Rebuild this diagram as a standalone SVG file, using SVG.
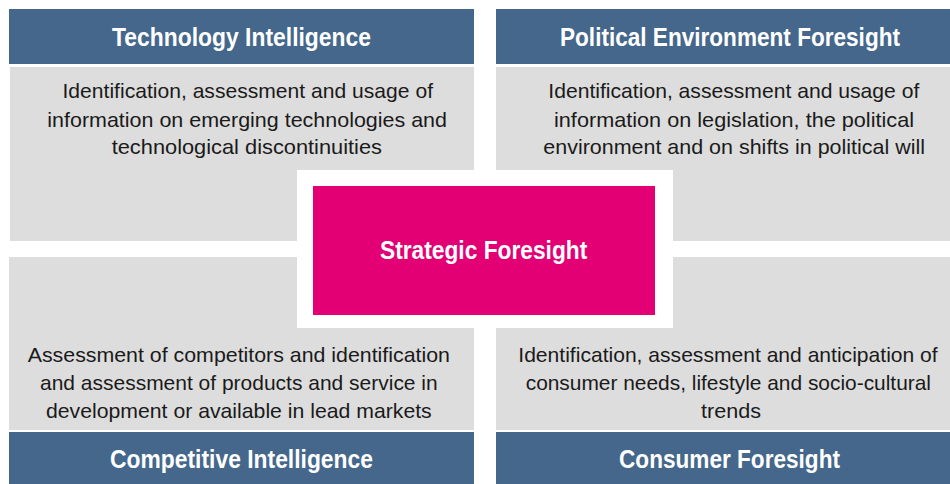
<svg xmlns="http://www.w3.org/2000/svg" width="950" height="484" viewBox="0 0 950 484">
<style>
.hdr{fill:#44678b}
.box{fill:#dddddd}
.ht{font-family:"Liberation Sans Narrow","Liberation Sans",Arial,sans-serif;font-weight:bold;font-size:26px;fill:#ffffff}
.bt{font-family:"Liberation Sans",Arial,sans-serif;font-size:21px;fill:#1a1a1a}
</style>
<rect width="950" height="484" fill="#ffffff"/>
<g id="technology-intelligence">
<rect class="hdr" x="9" y="9" width="465" height="55"/>
<rect class="box" x="10" y="67" width="464" height="174"/>
<text class="ht" x="112" y="46" textLength="259" lengthAdjust="spacingAndGlyphs">Technology Intelligence</text>
<text class="bt" x="62.5" y="98.3" textLength="370.5" lengthAdjust="spacingAndGlyphs">Identification, assessment and usage of</text>
<text class="bt" x="47.3" y="126.7" textLength="399.7" lengthAdjust="spacingAndGlyphs">information on emerging technologies and</text>
<text class="bt" x="111.7" y="154" textLength="270.3" lengthAdjust="spacingAndGlyphs">technological discontinuities</text>
</g>
<g id="political-environment-foresight">
<rect class="hdr" x="496" y="9" width="454" height="55"/>
<rect class="box" x="496" y="67" width="454" height="174"/>
<text class="ht" x="560" y="46" textLength="340" lengthAdjust="spacingAndGlyphs">Political Environment Foresight</text>
<text class="bt" x="548.3" y="98.3" textLength="371" lengthAdjust="spacingAndGlyphs">Identification, assessment and usage of</text>
<text class="bt" x="554" y="126.7" textLength="360" lengthAdjust="spacingAndGlyphs">information on legislation, the political</text>
<text class="bt" x="543.3" y="154" textLength="381.7" lengthAdjust="spacingAndGlyphs">environment and on shifts in political will</text>
</g>
<g id="competitive-intelligence">
<rect class="box" x="9" y="257" width="465" height="173"/>
<rect class="hdr" x="9" y="432" width="465" height="52"/>
<text class="ht" x="110" y="468" textLength="263" lengthAdjust="spacingAndGlyphs">Competitive Intelligence</text>
<text class="bt" x="27.7" y="362.3" textLength="422.3" lengthAdjust="spacingAndGlyphs">Assessment of competitors and identification</text>
<text class="bt" x="40" y="390" textLength="397.7" lengthAdjust="spacingAndGlyphs">and assessment of products and service in</text>
<text class="bt" x="46" y="417.7" textLength="385.7" lengthAdjust="spacingAndGlyphs">development or available in lead markets</text>
</g>
<g id="consumer-foresight">
<rect class="box" x="496" y="257" width="454" height="173"/>
<rect class="hdr" x="496" y="432" width="454" height="52"/>
<text class="ht" x="619" y="468" textLength="221" lengthAdjust="spacingAndGlyphs">Consumer Foresight</text>
<text class="bt" x="518.3" y="362.3" textLength="419.4" lengthAdjust="spacingAndGlyphs">Identification, assessment and anticipation of</text>
<text class="bt" x="525.7" y="390" textLength="405.3" lengthAdjust="spacingAndGlyphs">consumer needs, lifestyle and socio-cultural</text>
<text class="bt" x="701" y="417.7" textLength="60" lengthAdjust="spacingAndGlyphs">trends</text>
</g>
<g id="strategic-foresight">
<rect x="297" y="170" width="376" height="158" fill="#ffffff"/>
<rect x="313" y="186" width="342" height="129" fill="#e20074"/>
<text class="ht" x="380" y="259.3" textLength="207.3" lengthAdjust="spacingAndGlyphs">Strategic Foresight</text>
</g>
<g id="connectors"></g>
</svg>
